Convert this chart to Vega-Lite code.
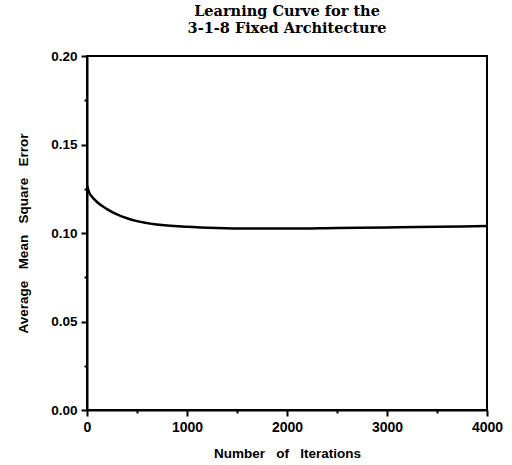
{
  "$schema": "https://vega.github.io/schema/vega-lite/v6.json",
  "autosize": {"type": "none"},
  "padding": {"left": 87, "top": 56, "right": 25, "bottom": 55},
  "width": 400,
  "height": 354,
  "background": "white",
  "title": {
    "text": ["Learning Curve for the", "3-1-8 Fixed Architecture"],
    "font": "DejaVu Serif",
    "fontSize": 14.5,
    "fontWeight": "bold",
    "lineHeight": 17,
    "color": "black",
    "anchor": "middle",
    "offset": 13
  },
  "config": {
    "view": {"stroke": "black", "strokeWidth": 2},
    "axis": {
      "grid": false,
      "domainColor": "black",
      "domainWidth": 2,
      "tickColor": "black",
      "tickWidth": 2,
      "labelColor": "black",
      "labelFont": "Liberation Sans",
      "labelFontWeight": "bold",
      "titleColor": "black",
      "titleFont": "Liberation Sans",
      "titleFontWeight": "bold",
      "titleFontSize": 13.5
    }
  },
  "data": {
    "values": [
      {"iter": 0, "mse": 0.127},
      {"iter": 25, "mse": 0.1225},
      {"iter": 50, "mse": 0.1205},
      {"iter": 100, "mse": 0.1175},
      {"iter": 200, "mse": 0.1135},
      {"iter": 300, "mse": 0.1105},
      {"iter": 400, "mse": 0.1083},
      {"iter": 500, "mse": 0.1067},
      {"iter": 700, "mse": 0.1048},
      {"iter": 1000, "mse": 0.1035},
      {"iter": 1300, "mse": 0.1028},
      {"iter": 1600, "mse": 0.1025},
      {"iter": 2000, "mse": 0.1025},
      {"iter": 2500, "mse": 0.1028},
      {"iter": 3000, "mse": 0.1031},
      {"iter": 3500, "mse": 0.1035},
      {"iter": 4000, "mse": 0.1039}
    ]
  },
  "mark": {"type": "line", "color": "black", "strokeWidth": 2.5, "interpolate": "monotone"},
  "encoding": {
    "x": {
      "field": "iter",
      "type": "quantitative",
      "scale": {"domain": [0, 4000], "nice": false},
      "axis": {
        "title": "Number\u00a0\u00a0 of\u00a0\u00a0 Iterations",
        "values": [0, 500, 1000, 1500, 2000, 2500, 3000, 3500, 4000],
        "labelExpr": "datum.value % 1000 === 0 ? datum.value : ''",
        "tickSize": {"condition": {"test": "datum.value % 1000 === 0", "value": 6}, "value": 3},
        "labelFontSize": 14,
        "labelPadding": 4,
        "titlePadding": 12,
        "labelFlush": false
      }
    },
    "y": {
      "field": "mse",
      "type": "quantitative",
      "scale": {"domain": [0, 0.2], "nice": false, "zero": true},
      "axis": {
        "title": "Average\u00a0\u00a0 Mean\u00a0\u00a0 Square\u00a0\u00a0 Error",
        "values": [0, 0.025, 0.05, 0.075, 0.1, 0.125, 0.15, 0.175, 0.2],
        "labelExpr": "abs(datum.value * 20 - round(datum.value * 20)) < 0.001 ? format(datum.value, '.2f') : ''",
        "tickSize": {"condition": {"test": "abs(datum.value * 20 - round(datum.value * 20)) < 0.001", "value": 6}, "value": 3},
        "labelFontSize": 13.5,
        "labelPadding": 4,
        "titlePadding": 20
      }
    }
  }
}
